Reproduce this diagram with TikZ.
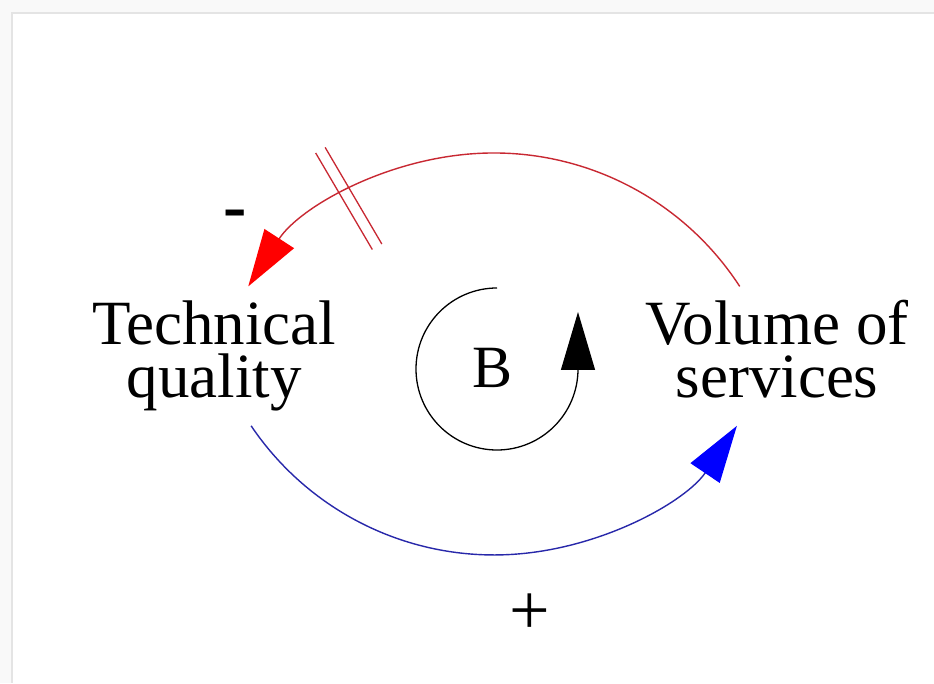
\documentclass[tikz,border=0pt]{standalone}
\usepackage{fontspec}
\setmainfont{Liberation Serif}
\usetikzlibrary{arrows.meta}
\definecolor{linkred}{RGB}{200,40,50}
\definecolor{linkblue}{RGB}{40,40,170}
\definecolor{framegray}{RGB}{228,228,228}
\definecolor{outergray}{RGB}{249,249,249}
\begin{document}
\begin{tikzpicture}[x=1pt, y=1pt, every node/.style={inner sep=0pt},
    var/.style={align=center, font=\fontsize{63}{53}\selectfont, anchor=base},
    bigtip/.style={-{Triangle[length=57pt, width=35pt, color=#1]}}]
    \useasboundingbox (0,0) rectangle (934,683);
    \fill[outergray] (0,0) rectangle (934,683);
    \fill[white] (13,0) rectangle (934,669);
    \draw[framegray, line width=2pt] (12,0) -- (12,670) -- (934,670);
    \node[var] (tech) at (214,285) {Technical\\quality};
    \node[var] (vol) at (777,285) {Volume of\\services};
    \node[font=\fontsize{60}{60}\selectfont, anchor=base] (loopB) at (493,295) {B};
    \node[font=\fontsize{70}{70}\selectfont\bfseries, anchor=base] (minus) at (235,453) {-};
    \node[font=\fontsize{72}{72}\selectfont] (plus) at (530,69) {+};
    \coordinate (redstart) at (739.7,396.6);
    \coordinate (bluestart) at (251.1,257.2);
    \coordinate (loopstart) at (497,395);
    \draw[linkred, line width=1.4pt, bigtip=red] (redstart)
        arc[start angle=33, end angle=147, radius=293];
    \draw[linkblue, line width=1.4pt, bigtip=blue] (bluestart)
        arc[start angle=214, end angle=326, radius=293];
    % retraso sobre el enlace rojo
    \begin{scope}[shift={(345.7,489.7)}, rotate=120.4]
        \draw[linkred, line width=1.3pt] (-62,-5.5) -- (50,-5.5) (-62,5.5) -- (50,5.5);
    \end{scope}
    \draw[line width=1.3pt, -{Triangle[length=58pt, width=34pt]}] (loopstart)
        arc[start angle=90, end angle=360, radius=81] -- ++(0,57);
\end{tikzpicture}
\end{document}
